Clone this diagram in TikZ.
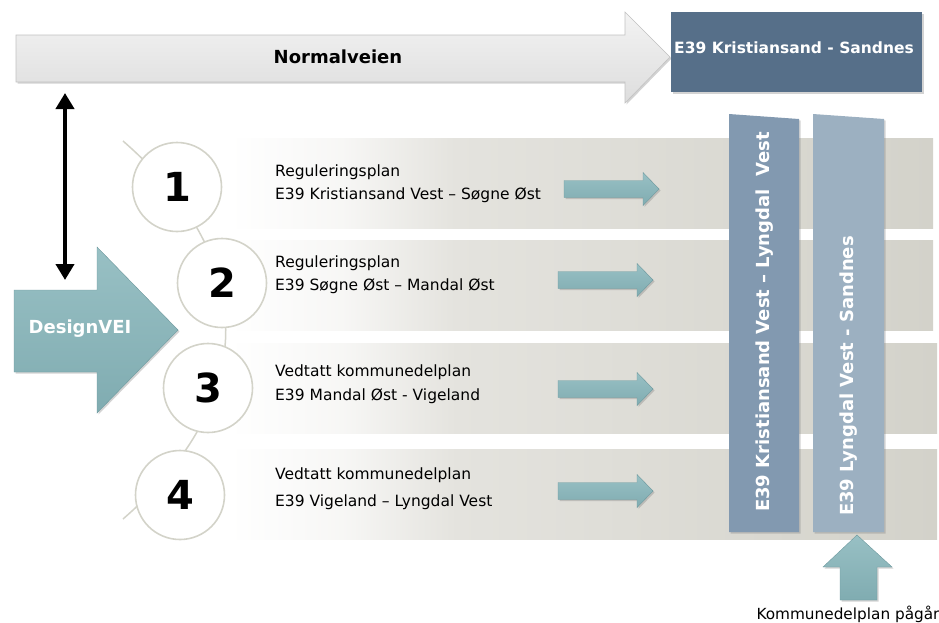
\documentclass[tikz,border=0pt]{standalone}
\usepackage{fontspec}
\setmainfont{DejaVu Sans}
\usetikzlibrary{arrows.meta,shadows}
\definecolor{normA}{HTML}{F3F3F3}
\definecolor{normB}{HTML}{DDDDDD}
\definecolor{normEdge}{HTML}{C2C2C2}
\definecolor{topbox}{HTML}{566F89}
\definecolor{barA}{HTML}{8299B0}
\definecolor{barB}{HTML}{9CB0C1}
\definecolor{tealA}{HTML}{98C0C4}
\definecolor{tealB}{HTML}{80ACB1}
\definecolor{tealEdge}{HTML}{6E9A9F}
\definecolor{ringgray}{HTML}{D3D3C9}
\definecolor{bandmid}{HTML}{E4E3DE}
\definecolor{bandend}{HTML}{D3D2CA}
\pgfdeclarehorizontalshading{bandshade}{100bp}{color(0bp)=(white); color(25bp)=(white); color(33bp)=(white!70!bandmid); color(41bp)=(bandmid); color(75bp)=(bandend); color(100bp)=(bandend)}
\begin{document}
\begin{tikzpicture}[x=1pt,y=-1pt,
  txt/.style={font=\fontsize{15.5}{18}\selectfont, anchor=west, inner sep=0pt},
  num/.style={font=\bfseries\fontsize{40}{48}\selectfont, inner sep=0pt},
  ring/.style={circle, draw=ringgray, line width=1.6pt, fill=white, minimum size=89pt, inner sep=0pt},
  band/.style={shading=bandshade},
  shad/.style={drop shadow={shadow xshift=1.5pt, shadow yshift=-1.5pt, opacity=0.35}},
  tealarrow/.style={top color=tealA, bottom color=tealB, draw=tealEdge, line width=0.4pt, shad},
  chainline/.style={draw=ringgray, line width=1.5pt},
  vtxt/.style={font=\bfseries\fontsize{18}{21}\selectfont, text=white, rotate=90, inner sep=0pt},
  rarrow/.pic={\path[tealarrow] (0,-8.5) -- (79,-8.5) -- (79,-16.5) -- (95,0) -- (79,16.5) -- (79,8.5) -- (0,8.5) -- cycle;}
]
\useasboundingbox (0,0) rectangle (939,622);

% bands
\path[band] (230,138) rectangle (933,228);
\path[band] (230,240) rectangle (933,330);
\path[band] (230,343) rectangle (937,433);
\path[band] (230,449) rectangle (937,539);

% Normalveien arrow
\path[top color=normA, bottom color=normB, draw=normEdge, line width=0.6pt, shad]
  (16,35) -- (625,35) -- (625,12) -- (670,57) -- (625,103) -- (625,82) -- (16,82) -- cycle;
\node[font=\bfseries\fontsize{18}{21}\selectfont, inner sep=0pt] (normal) at (338,57) {Normalveien};

% top box
\node[fill=topbox, minimum width=251pt, minimum height=80pt, inner sep=0pt, shad] (kbox) at (796.5,52) {};
\node[font=\bfseries\fontsize{15.5}{18}\selectfont, text=white, inner sep=0pt] (kboxtxt) at (794,48) {E39 Kristiansand - Sandnes};

% double arrow
\coordinate (dvTop) at (65,93);
\coordinate (dvBot) at (65,280);
\draw[line width=4.5pt, {Triangle[length=16pt,width=18pt]}-{Triangle[length=16pt,width=18pt]}] (dvTop) -- (dvBot);

% DesignVEI arrow
\path[top color=tealA, bottom color=tealB, draw=tealEdge, line width=0.4pt, shad]
  (14,290) -- (97,290) -- (97,247) -- (178,330) -- (97,413) -- (97,372) -- (14,372) -- cycle;
\node[font=\bfseries\fontsize{18}{21}\selectfont, text=white, inner sep=0pt] (design) at (80,329) {DesignVEI};

% chain curve
\coordinate (chS) at (123,141);
\coordinate (chE) at (123,519);
\coordinate (chC1) at (260,260);
\coordinate (chC2) at (260,400);
\draw[chainline] (chS) .. controls (chC1) and (chC2) .. (chE);

% circles
\node[ring] (c1) at (177,187) {};
\node[ring] (c2) at (222,283) {};
\node[ring] (c3) at (208,388) {};
\node[ring] (c4) at (180,495) {};
\node[num] (n1) at (c1) {1};
\node[num] (n2) at (c2) {2};
\node[num] (n3) at (c3) {3};
\node[num] (n4) at (c4) {4};

% texts
\node[txt] (t1a) at (275,172) {Reguleringsplan};
\node[txt] (t1b) at (275,195) {E39 Kristiansand Vest – Søgne Øst};
\node[txt] (t2a) at (275,263) {Reguleringsplan};
\node[txt] (t2b) at (275,286) {E39 Søgne Øst – Mandal Øst};
\node[txt] (t3a) at (275,372) {Vedtatt kommunedelplan};
\node[txt] (t3b) at (275,396) {E39 Mandal Øst - Vigeland};
\node[txt] (t4a) at (275,475) {Vedtatt kommunedelplan};
\node[txt] (t4b) at (275,502) {E39 Vigeland – Lyngdal Vest};

% small arrows
\pic at (564,189) {rarrow};
\pic at (558,280) {rarrow};
\pic at (558,389) {rarrow};
\pic at (558,491) {rarrow};

% vertical bars
\path[fill=barA, shad] (729,114) -- (799,119) -- (799,532) -- (729,532) -- cycle;
\path[fill=barB, shad] (813,114) -- (884,119) -- (884,532) -- (813,532) -- cycle;
\node[vtxt] (v1) at (765,322) {E39 Kristiansand Vest – Lyngdal\ \ Vest};
\node[vtxt] (v2) at (849,376) {E39 Lyngdal Vest - Sandnes};

% bottom up arrow
\path[tealarrow] (857,535) -- (892,567) -- (877,567) -- (877,600) -- (840,600) -- (840,567) -- (823,567) -- cycle;
\node[font=\fontsize{15.3}{18}\selectfont, inner sep=0pt] (kp) at (848,614) {Kommunedelplan pågår};
\end{tikzpicture}
\end{document}
